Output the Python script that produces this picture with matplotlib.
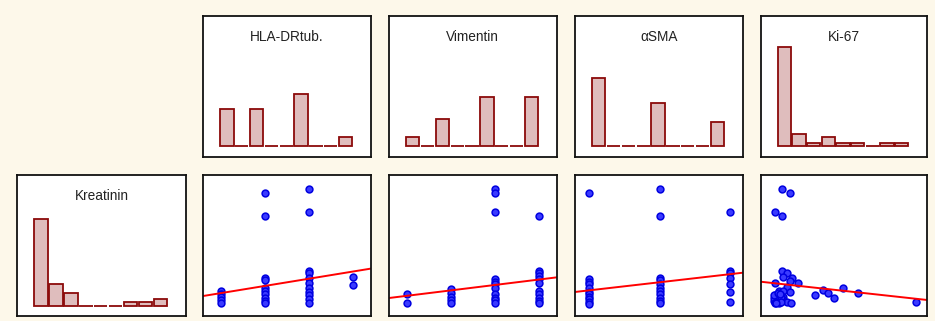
import numpy as np
import matplotlib
matplotlib.use('Agg')
from matplotlib import pyplot as plt

plt.rcParams['font.family'] = ['Liberation Sans', 'DejaVu Sans']

# histogram counts (9 bins each)
kreatinin_counts = [28, 7, 4, 0, 0, 0, 1, 1, 2]
hla_counts = [12, 0, 12, 0, 0, 17, 0, 0, 3]
vim_counts = [3, 0, 9, 0, 0, 16, 0, 0, 16]
sma_counts = [22, 0, 0, 0, 14, 0, 0, 0, 8]
ki67_counts = [32, 4, 1, 3, 1, 1, 0, 1, 1]

# scatter data: marker score (x) vs Kreatinin (y)
hla_x = [0, 0, 0, 0, 0,
         1, 1, 1, 1, 1, 1, 1, 1, 1, 1,
         2, 2, 2, 2, 2, 2, 2, 2, 2, 2, 2,
         3, 3]
hla_y = [1.76, 1.54, 1.33, 1.11, 0.90,
         8.74, 7.08, 2.71, 2.54, 1.99, 1.76, 1.52, 1.28, 1.05, 0.93,
         9.00, 7.41, 3.18, 3.02, 2.66, 2.31, 1.99, 1.71, 1.47, 1.17, 0.88,
         2.78, 2.19]

vim_x = [0, 0,
         1, 1, 1, 1, 1,
         2, 2, 2, 2, 2, 2, 2, 2, 2, 2, 2,
         3, 3, 3, 3, 3, 3, 3, 3, 3, 3, 3]
vim_y = [1.52, 0.88,
         1.88, 1.64, 1.35, 1.12, 0.93,
         9.00, 8.76, 7.41, 2.61, 2.42, 2.24, 1.99, 1.52, 1.28, 1.12, 0.93,
         7.08, 3.18, 3.02, 2.85, 2.61, 2.31, 1.76, 1.52, 1.28, 1.05, 0.88]

sma_x = [0, 0, 0, 0, 0, 0, 0, 0, 0, 0, 0,
         1, 1, 1, 1, 1, 1, 1, 1, 1, 1, 1,
         2, 2, 2, 2, 2, 2, 2]
sma_y = [8.74, 2.61, 2.42, 2.24, 1.95, 1.71, 1.52, 1.35, 1.17, 1.00, 0.83,
         9.00, 7.08, 2.71, 2.54, 2.24, 1.99, 1.76, 1.52, 1.28, 1.05, 0.88,
         7.41, 3.18, 3.02, 2.71, 2.24, 1.71, 1.00]

ki67_x = [2.2, 4.5, 0.3, 2.2,
          2.2, 3.6, 2.6, 5.0, 4.5, 6.9, 0.3, 3.6, 4.5,
          11.6, 13.9, 15.3, 17.0, 19.4, 23.8, 40.0,
          1.5, 2.6, 0.3, 1.5, 2.6, 0.0, 1.2, 2.6,
          0.3, 1.5, 3.6, 4.7, 0.0, 1.0, 2.0, 0.5,
          0.0, 1.0, 2.0, 0.6, 1.8]
ki67_y = [9.00, 8.76, 7.41, 7.08,
          3.18, 3.02, 2.78, 2.66, 2.49, 2.31, 2.31, 2.07, 1.71,
          1.47, 1.83, 1.60, 1.24, 1.95, 1.60, 1.00,
          1.76, 1.76, 1.50, 1.50, 1.35, 1.05, 0.98, 1.10,
          0.88, 0.88, 1.00, 0.88, 1.25, 1.20, 1.30, 1.00,
          1.45, 1.60, 0.95, 0.92, 1.55]

# fitted regression lines (intercept, slope)
hla_fit = (1.61, 0.514)
vim_fit = (1.415, 0.387)
sma_fit = (1.805, 0.576)
ki67_fit = (2.316, -0.0277)

bg = '#fdf8ea'
W, H = 935, 321
fig = plt.figure(figsize=(W / 100, H / 100), dpi=100, facecolor=bg)

col_l = [17, 203.3, 389, 575, 760.7]
col_r = [186, 370.7, 556.7, 742.7, 926.7]
row_t = [15.7, 175.3]
row_b = [156.7, 315.7]


def make_ax(r, c):
    ax = fig.add_axes([col_l[c] / W, (H - row_b[r]) / H,
                       (col_r[c] - col_l[c]) / W, (row_b[r] - row_t[r]) / H])
    ax.set_xticks([])
    ax.set_yticks([])
    for s in ax.spines.values():
        s.set_linewidth(1.3)
        s.set_color('#111111')
    return ax


def hist_panel(ax, counts, title):
    ax.bar(np.arange(len(counts)), counts, width=0.9, color='#dfbdbd',
           edgecolor='#8b0a0a', linewidth=1.3)
    ax.set_xlim(-1.6, 9.7)
    ax.set_ylim(-3.3, 42.2)
    ax.text(0.5, 1 - 21 / 141, title, transform=ax.transAxes, ha='center',
            va='center', fontsize=9.8, color='#222222')


def scatter_panel(ax, x, y, fit, xlim):
    ax.plot(x, y, 'o', ms=4.9, mfc='#3a3aff', mec='#0000e0', mew=1.1,
            linestyle='none')
    xs = np.array(xlim)
    ax.plot(xs, fit[0] + fit[1] * xs, color='red', lw=1.4)
    ax.set_xlim(*xlim)
    ax.set_ylim(0, 10)


hist_panel(make_ax(1, 0), kreatinin_counts, 'Kreatinin')
hist_panel(make_ax(0, 1), hla_counts, 'HLA-DRtub.')
hist_panel(make_ax(0, 2), vim_counts, 'Vimentin')
hist_panel(make_ax(0, 3), sma_counts, 'αSMA')
hist_panel(make_ax(0, 4), ki67_counts, 'Ki-67')

scatter_panel(make_ax(1, 1), hla_x, hla_y, hla_fit, (-0.40, 3.39))
scatter_panel(make_ax(1, 2), vim_x, vim_y, vim_fit, (-0.40, 3.40))
scatter_panel(make_ax(1, 3), sma_x, sma_y, sma_fit, (-0.20, 2.18))
scatter_panel(make_ax(1, 4), ki67_x, ki67_y, ki67_fit, (-3.76, 43.1))

fig.savefig('out.png', dpi=100, facecolor=bg)
